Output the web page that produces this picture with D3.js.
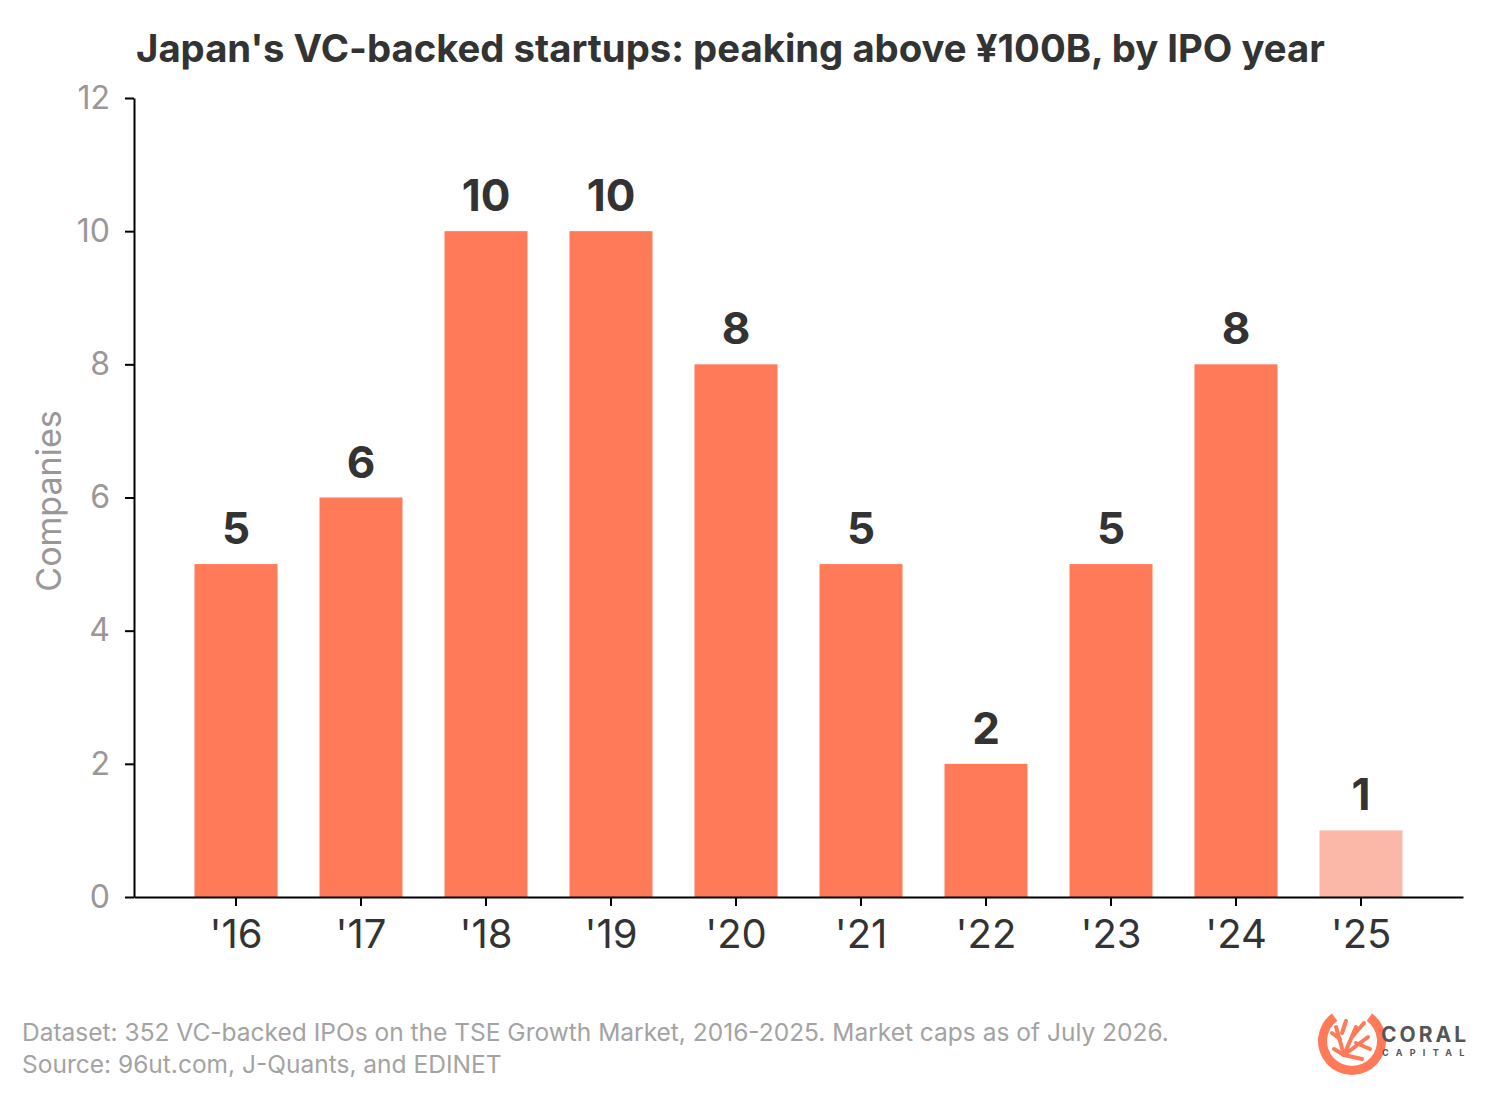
<!DOCTYPE html>
<html>
<head>
<meta charset="utf-8">
<script src="https://cdn.jsdelivr.net/npm/d3@7"></script>
<style>
  body { margin: 0; background: #fff; }
  text { font-family: Inter, "Noto Sans", sans-serif; }
</style>
</head>
<body>
<svg id="chart" width="1496" height="1100"></svg>
<script>
// data
const years = ["'16", "'17", "'18", "'19", "'20", "'21", "'22", "'23", "'24", "'25"];
const companies = [5, 6, 10, 10, 8, 5, 2, 5, 8, 1];
const partialYear = ["'25"];
const yTicks = [0, 2, 4, 6, 8, 10, 12];

const svg = d3.select("#chart");
const plotLeft = 134, plotRight = 1463, plotTop = 98, plotBottom = 897;

const x = d3.scaleBand()
    .domain(years)
    .range([plotLeft, plotRight])
    .paddingInner(0.336)
    .paddingOuter(0.484);

const y = d3.scaleLinear()
    .domain([0, 12])
    .range([plotBottom, plotTop]);

// title
svg.append("text")
    .attr("x", 136)
    .attr("y", 62)
    .attr("fill", "#333")
    .attr("font-size", 38.3)
    .attr("font-weight", "bold")
    .text("Japan's VC-backed startups: peaking above ¥100B, by IPO year");

// bars
svg.selectAll("rect.bar")
    .data(years)
    .join("rect")
    .attr("class", "bar")
    .attr("x", d => x(d))
    .attr("width", x.bandwidth())
    .attr("y", (d, i) => y(companies[i]))
    .attr("height", (d, i) => y(0) - y(companies[i]))
    .attr("fill", d => partialYear.includes(d) ? "#fbb8a8" : "#ff7a59");

// value labels
svg.selectAll("text.val")
    .data(years)
    .join("text")
    .attr("class", "val")
    .attr("x", d => x(d) + x.bandwidth() / 2)
    .attr("y", (d, i) => y(companies[i]) - 20)
    .attr("text-anchor", "middle")
    .attr("fill", "#333")
    .attr("font-size", 44)
    .attr("font-weight", "bold")
    .text((d, i) => companies[i]);

// y axis
const yAxis = svg.append("g")
    .attr("transform", `translate(${plotLeft},0)`)
    .call(d3.axisLeft(y).tickValues(yTicks).tickSize(9).tickPadding(15).tickSizeOuter(0));
yAxis.select(".domain").attr("stroke", "#000").attr("stroke-width", 2);
yAxis.selectAll(".tick line").attr("stroke", "#000").attr("stroke-width", 2);
yAxis.selectAll(".tick text")
    .attr("fill", "#9b9797")
    .attr("font-size", 32)
    .style("font-family", "Inter, sans-serif");

// x axis
const xAxis = svg.append("g")
    .attr("transform", `translate(0,${plotBottom})`)
    .call(d3.axisBottom(x).tickSize(9).tickPadding(8).tickSizeOuter(0));
xAxis.select(".domain").attr("stroke", "#000").attr("stroke-width", 2);
xAxis.selectAll(".tick line").attr("stroke", "#000").attr("stroke-width", 2);
xAxis.selectAll(".tick text")
    .attr("fill", "#333")
    .attr("font-size", 40)
    .attr("dy", "0.85em")
    .style("font-family", "Inter, sans-serif");

// y label
svg.append("text")
    .attr("transform", "translate(61,501) rotate(-90)")
    .attr("text-anchor", "middle")
    .attr("fill", "#9b9797")
    .attr("font-size", 34)
    .text("Companies");

// footer
const foot = svg.append("g").attr("fill", "#a3a3a3").attr("font-size", 24.5);
foot.append("text").attr("x", 22).attr("y", 1041)
    .text("Dataset: 352 VC-backed IPOs on the TSE Growth Market, 2016-2025. Market caps as of July 2026.");
foot.append("text").attr("x", 22).attr("y", 1073)
    .text("Source: 96ut.com, J-Quants, and EDINET");

// logo
const logo = svg.append("g").attr("transform", "translate(1352,1041)");
const arc = d3.arc().innerRadius(25).outerRadius(34)
    .startAngle(Math.PI * 0.2).endAngle(Math.PI * 1.8);
logo.append("path").attr("d", arc()).attr("fill", "#ff7a59");
// coral branches
const branches = [
    [[-8, 14], [-16, -14]], [[-12, -2], [-20, -8]], [[-10, -8], [-6, -20]],
    [[-8, 14], [4, -14]], [[0, -4], [12, -18]], [[-8, 14], [16, -4]],
    [[4, 2], [18, 8]], [[-8, 14], [10, 18]], [[-8, 14], [-18, 8]]
];
logo.selectAll("line.br")
    .data(branches)
    .join("line")
    .attr("x1", d => d[0][0]).attr("y1", d => d[0][1])
    .attr("x2", d => d[1][0]).attr("y2", d => d[1][1])
    .attr("stroke", "#ff7a59")
    .attr("stroke-width", 4)
    .attr("stroke-linecap", "round");
svg.append("text")
    .attr("x", 1381).attr("y", 1042)
    .attr("fill", "#555")
    .attr("font-size", 21)
    .attr("font-weight", "bold")
    .attr("letter-spacing", 3)
    .text("CORAL");
svg.append("text")
    .attr("x", 1382).attr("y", 1056)
    .attr("fill", "#555")
    .attr("font-size", 9)
    .attr("font-weight", "bold")
    .attr("letter-spacing", 7.3)
    .text("CAPITAL");
</script>
</body>
</html>
